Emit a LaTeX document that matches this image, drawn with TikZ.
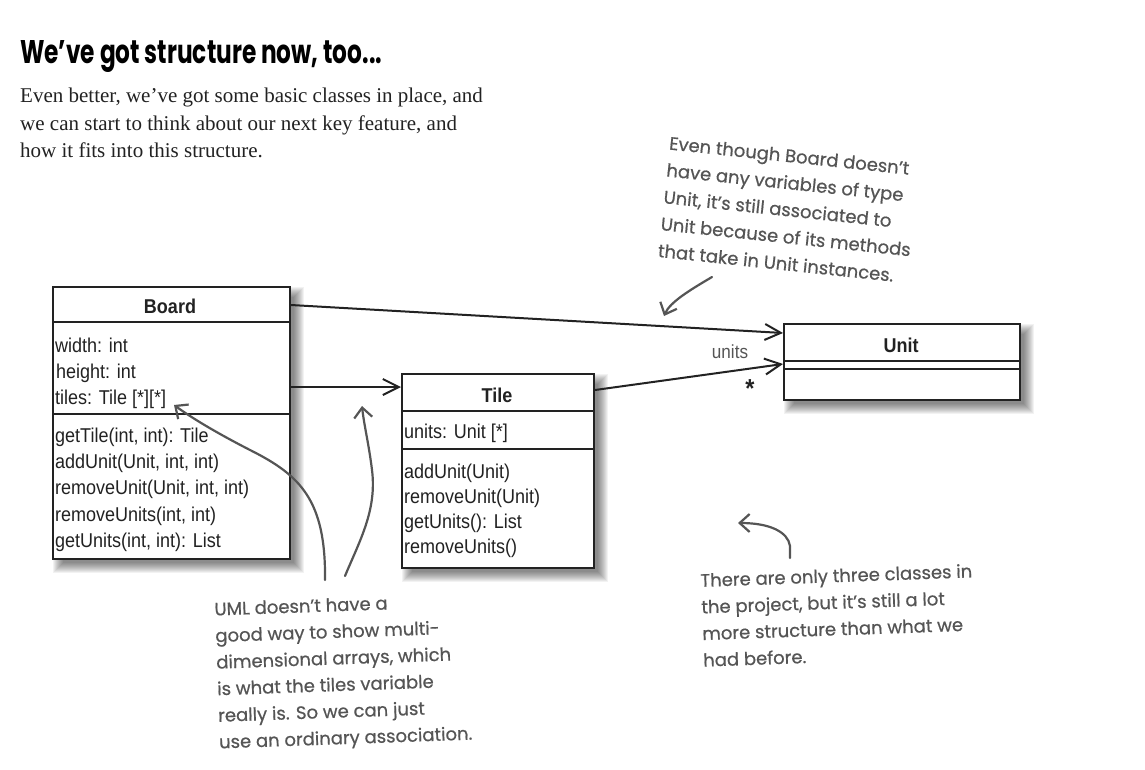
\documentclass[tikz,border=0pt]{standalone}
\usepackage{fontspec}
\setmainfont{Liberation Serif}
\newfontfamily\umlfont[FakeStretch=0.9]{Liberation Sans}
\newfontfamily\handfont[FakeBold=0.6]{Poppins}
\newfontfamily\headfont{Poppins}
\usetikzlibrary{arrows.meta}
\definecolor{ink}{HTML}{222222}
\definecolor{note}{HTML}{555555}
\pgfdeclarelayer{bg}
\pgfdeclarelayer{paper}
\pgfsetlayers{paper,bg,main}
\newcommand\boxshadow[1]{%
  \foreach \e in {-4,...,6}{%
    \fill[black,opacity=0.05] ([xshift={(7-(\e))*1pt},yshift={((\e)-7)*1pt}]#1.north west) rectangle ([xshift={(7+(\e))*1pt},yshift={(-7-(\e))*1pt}]#1.south east);}}
\begin{document}
\begin{tikzpicture}[x=1pt,y=-1pt,
  classbox/.style={draw=ink, line width=2pt, fill=white, inner sep=0pt, anchor=north west},
  divider/.style={draw=ink, line width=2pt},
  umlattr/.style={anchor=base west, inner sep=0pt, font=\umlfont\fontsize{20}{24}\selectfont, text=ink},
  clstitle/.style={anchor=base, inner sep=0pt, font=\umlfont\bfseries\fontsize{20}{24}\selectfont, text=ink},
  assoc/.style={draw=ink, line width=2pt, -{Straight Barb[length=16pt,width=16pt]}},
  handarrow/.style={draw=note, line width=2.2pt, line cap=round, -{Straight Barb[length=10pt,width=18pt]}},
  handnote/.style={anchor=north west, inner sep=0pt, align=left, text=note, font=\handfont\fontsize{18}{26.6}\selectfont},
  bodytext/.style={anchor=base west, inner sep=0pt, text=ink, font=\fontsize{21}{27}\selectfont},
]
\begin{pgfonlayer}{paper}
\useasboundingbox[fill=white] (0,0) rectangle (1145,769);
\end{pgfonlayer}

% heading and intro
\node[anchor=base west, inner sep=0pt] (head) at (20,63) {\resizebox{362pt}{23pt}{\headfont\bfseries We’ve got structure now, too...}};
\node[bodytext] (body1) at (20,102) {Even better, we’ve got some basic classes in place, and};
\node[bodytext] (body2) at (20,130) {we can start to think about our next key feature, and};
\node[bodytext] (body3) at (20,157) {how it fits into this structure.};

% Board
\node[classbox, minimum width=237pt, minimum height=272pt] (board) at (52,286) {};
\draw[divider] ([yshift=-36pt]board.north west) -- ([yshift=-36pt]board.north east);
\draw[divider] ([yshift=-128pt]board.north west) -- ([yshift=-128pt]board.north east);
\node[clstitle] (boardt) at (170,313) {Board};
\node[umlattr] (ba1) at (55,352) {width: int};
\node[umlattr] (ba2) at (56,378) {height: int};
\node[umlattr] (ba3) at (55,404) {tiles: Tile [*][*]};
\node[umlattr] (bm1) at (55,442) {getTile(int, int): Tile};
\node[umlattr] (bm2) at (55,468) {addUnit(Unit, int, int)};
\node[umlattr] (bm3) at (55,494) {removeUnit(Unit, int, int)};
\node[umlattr] (bm4) at (55,521) {removeUnits(int, int)};
\node[umlattr] (bm5) at (55,547) {getUnits(int, int): List};

% Tile
\node[classbox, minimum width=192pt, minimum height=194pt] (tile) at (401,373) {};
\draw[divider] ([yshift=-38pt]tile.north west) -- ([yshift=-38pt]tile.north east);
\draw[divider] ([yshift=-76pt]tile.north west) -- ([yshift=-76pt]tile.north east);
\node[clstitle] (tilet) at (497,402) {Tile};
\node[umlattr] (ta1) at (404,438) {units: Unit [*]};
\node[umlattr] (tm1) at (404,478) {addUnit(Unit)};
\node[umlattr] (tm2) at (404,503) {removeUnit(Unit)};
\node[umlattr] (tm3) at (404,528) {getUnits(): List};
\node[umlattr] (tm4) at (404,553) {removeUnits()};

% Unit
\node[classbox, minimum width=236pt, minimum height=76pt] (unit) at (783,323) {};
\draw[divider] ([yshift=-38pt]unit.north west) -- ([yshift=-38pt]unit.north east);
\draw[divider] ([yshift=-46pt]unit.north west) -- ([yshift=-46pt]unit.north east);
\node[clstitle] (unitt) at (901,352) {Unit};

% shadows
\begin{pgfonlayer}{bg}
\boxshadow{board}
\boxshadow{tile}
\boxshadow{unit}
\end{pgfonlayer}

% associations
\draw[assoc] ([yshift=-19pt]board.north east) -- ([yshift=-10pt]unit.north west);
\draw[assoc] ([yshift=-101pt]board.north east) -- ([yshift=-14pt]tile.north west);
\draw[assoc] ([yshift=-17pt]tile.north east) -- ([yshift=-41pt]unit.north west);
\node[anchor=base, inner sep=0pt, text=note, font=\umlfont\fontsize{19}{22}\selectfont] (lunits) at (730,358) {units};
\node[inner sep=0pt, text=ink, font=\umlfont\bfseries\fontsize{26}{26}\selectfont] (lstar) at (750,389) {*};

% notes
\node[handnote, rotate=-6, font=\handfont\fontsize{18}{27}\selectfont] (note1) at (670,136) {Even though Board doesn’t\\have any variables of type\\Unit, it’s still associated to\\Unit because of its methods\\that take in Unit instances.};
\node[handnote, rotate=2] (note2) at (214,602) {UML doesn’t have a\\good way to show multi-\\dimensional arrays, which\\is what the tiles variable\\really is. So we can just\\use an ordinary association.};
\node[handnote, rotate=2] (note3) at (700,573) {There are only three classes in\\the project, but it’s still a lot\\more structure than what we\\had before.};

% note arrows
\coordinate (a1s) at (712,277);
\coordinate (a1e) at (664,316);
\draw[handarrow] (a1s) .. controls (690,290) and (670,302) .. (a1e);
\coordinate (a2s) at (325,580);
\coordinate (a2m) at (250,450);
\coordinate (a2e) at (174,405);
\draw[handarrow] (a2s) .. controls (326,500) and (300,475) .. (a2m) .. controls (215,432) and (192,418) .. (a2e);
\coordinate (a3s) at (345,576);
\coordinate (a3m) at (372,470);
\coordinate (a3e) at (362,406);
\draw[handarrow] (a3s) .. controls (360,540) and (377,510) .. (a3m) .. controls (369,445) and (364,425) .. (a3e);
\coordinate (a4s) at (790,558);
\coordinate (a4e) at (738,523);
\draw[handarrow] (a4s) -- (790,546) .. controls (788,532) and (770,523) .. (a4e);
\end{tikzpicture}
\end{document}
